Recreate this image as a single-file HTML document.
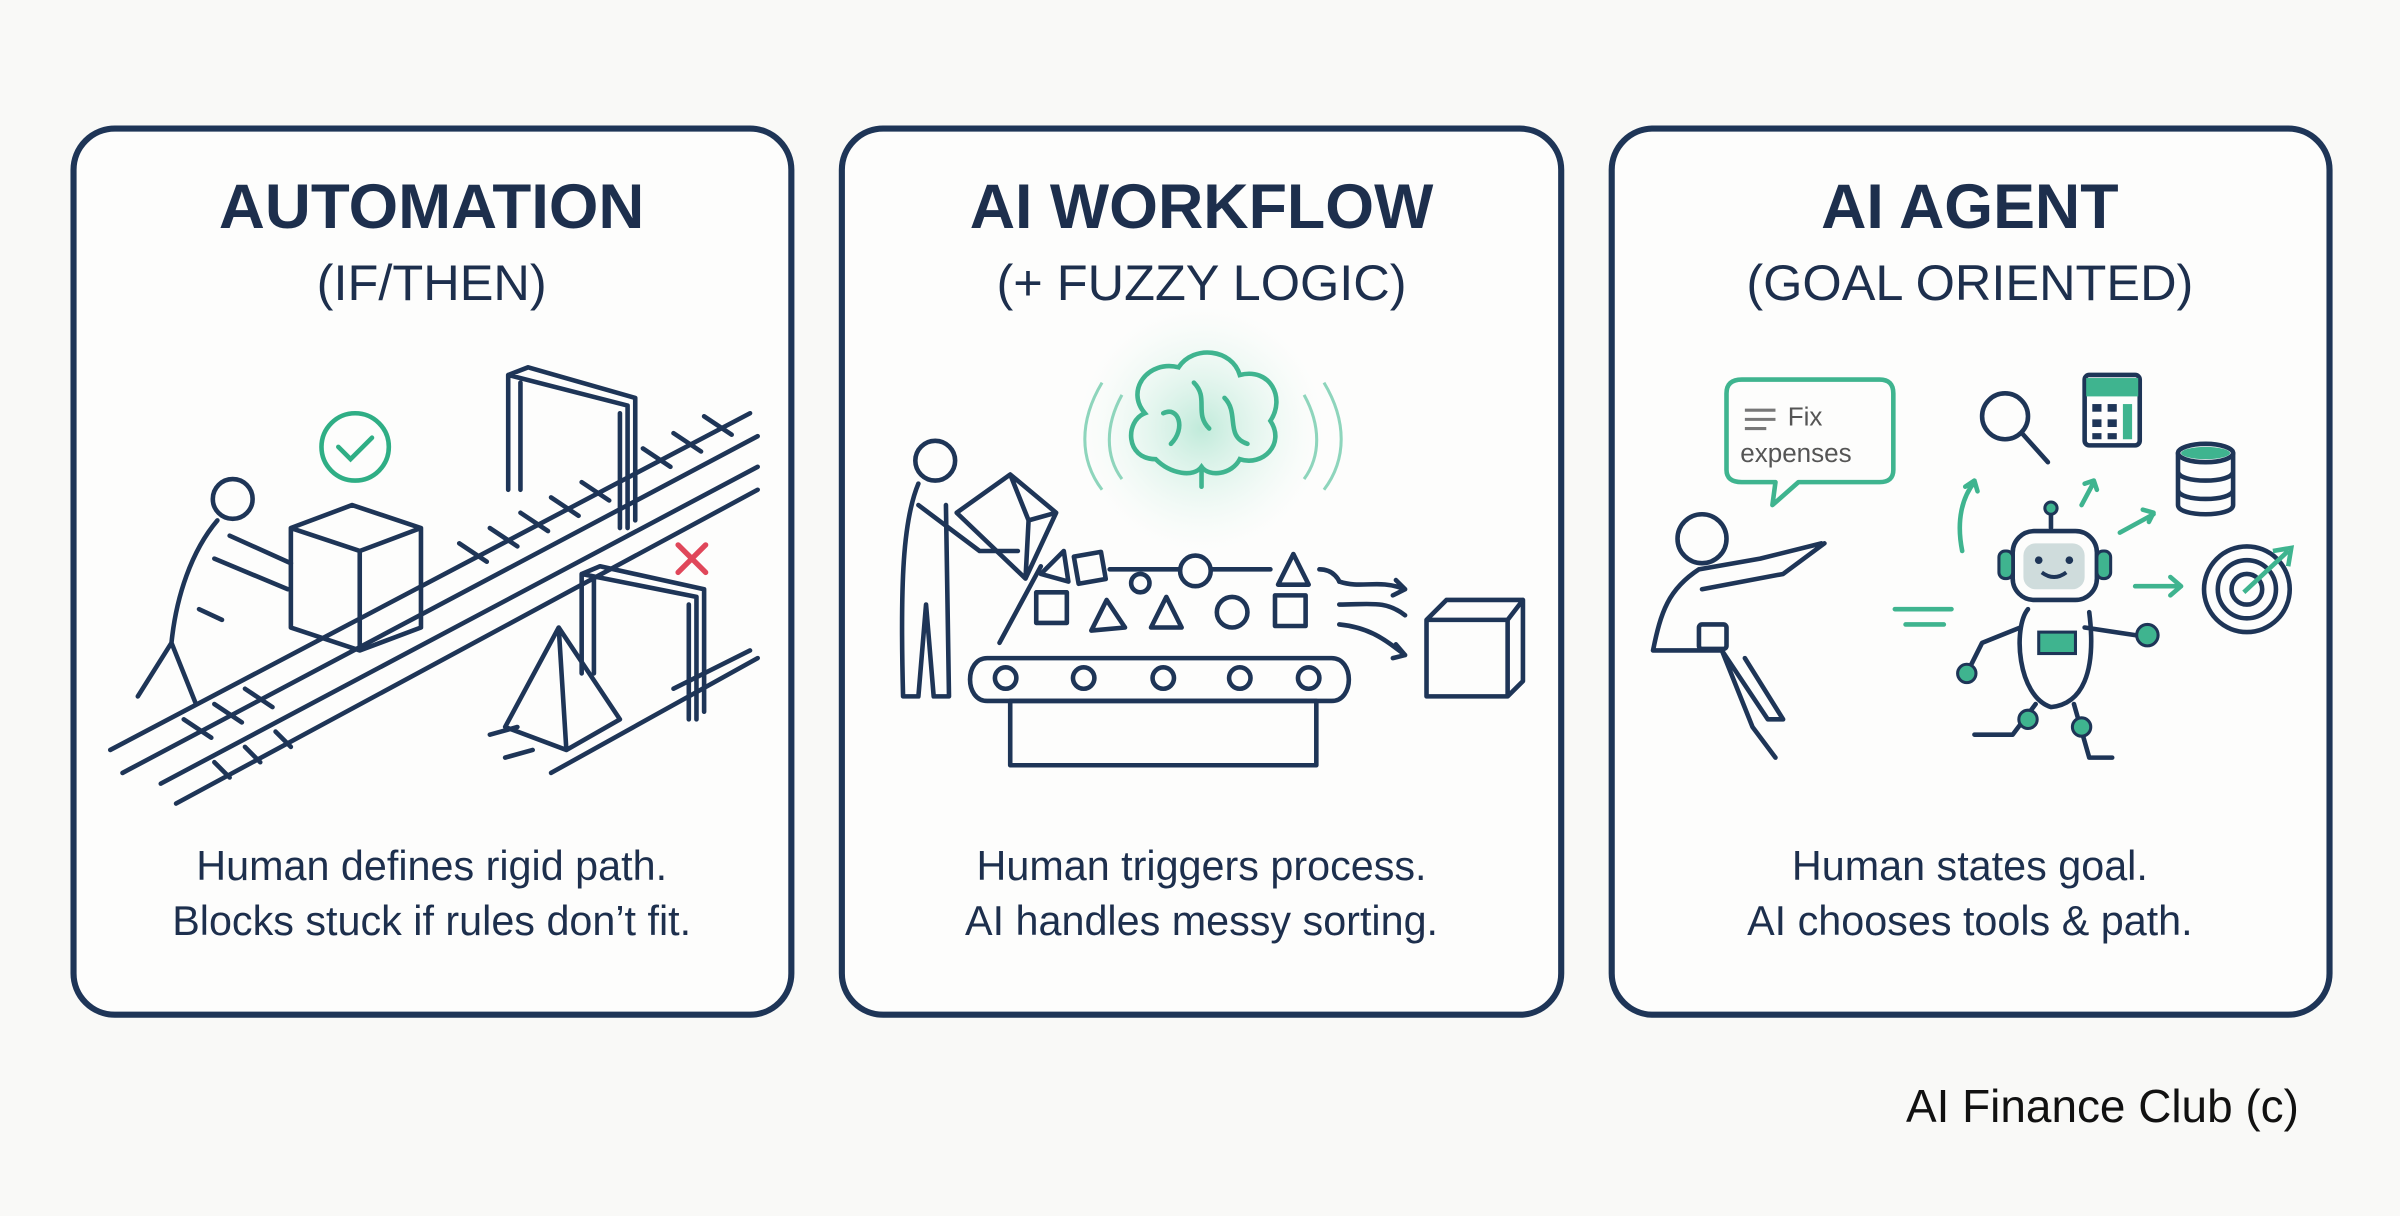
<!DOCTYPE html>
<html><head><meta charset="utf-8"><style>
html,body{margin:0;padding:0;background:#f9f9f7;}
svg{display:block}
text{font-family:"Liberation Sans",sans-serif;fill:#1d2f4d}
</style></head><body>
<svg width="2400" height="1216" viewBox="0 0 1568 794.5" xmlns="http://www.w3.org/2000/svg">
<defs>
<radialGradient id="glow"><stop offset="0" stop-color="#b9e8d6" stop-opacity=".9"/><stop offset="1" stop-color="#e8f7f1" stop-opacity="0"/></radialGradient>
</defs>
<rect width="1568" height="794.5" fill="#f9f9f7"/>
<g fill="#fdfdfc" stroke="#1e3557" stroke-width="4">
<rect x="48" y="84" width="469" height="579" rx="27"/>
<rect x="550" y="84" width="470" height="579" rx="27"/>
<rect x="1053" y="84" width="469" height="579" rx="27"/>
</g>
<g text-anchor="middle">
<text x="282" y="149" font-size="41" font-weight="bold" textLength="278" lengthAdjust="spacingAndGlyphs">AUTOMATION</text>
<text x="282" y="196" font-size="33">(IF/THEN)</text>
<text x="785" y="149" font-size="41" font-weight="bold">AI WORKFLOW</text>
<text x="785" y="196" font-size="33">(+ FUZZY LOGIC)</text>
<text x="1287" y="149" font-size="41" font-weight="bold">AI AGENT</text>
<text x="1287" y="196" font-size="33">(GOAL ORIENTED)</text>
<text x="282" y="575" font-size="27">Human defines rigid path.</text>
<text x="282" y="611" font-size="27">Blocks stuck if rules don’t fit.</text>
<text x="785" y="575" font-size="27">Human triggers process.</text>
<text x="785" y="611" font-size="27">AI handles messy sorting.</text>
<text x="1287" y="575" font-size="27">Human states goal.</text>
<text x="1287" y="611" font-size="27">AI chooses tools &amp; path.</text>
</g>
<text x="1502" y="733" font-size="30" text-anchor="end" style="fill:#111">AI Finance Club (c)</text>

<!-- Panel 1 -->
<g fill="none" stroke="#1e3557" stroke-width="3" stroke-linecap="round" stroke-linejoin="round">
<path d="M72 490 L490 270 M80 505 L495 285 M105 512 L495 305 M115 525 L495 320"/>
<path d="M120 470 l18 12 M140 460 l18 12 M160 450 l18 12 M300 355 l18 12 M320 345 l18 12 M340 335 l18 12 M360 325 l18 12 M380 315 l18 12 M420 293 l18 12 M440 283 l18 12 M460 272 l18 12"/>
<path d="M140 498 l10 10 M160 488 l10 10 M180 478 l10 10"/>
<path d="M190 345 L230 330 L275 345 L275 410 L235 425 L190 410 Z M190 345 L235 360 L275 345 M235 360 L235 425"/>
<circle cx="152" cy="326" r="13"/>
<path d="M142 340 C125 360 115 390 112 420 L90 455 M112 420 L128 460 M150 350 L190 368 M140 365 L188 385 M130 398 L145 405"/>
<path d="M332 245 L410 265 L410 345 M340 250 L340 320 M332 245 L332 320 M405 270 L405 345 M332 245 L345 240 L415 260 L415 340"/>
<path d="M380 375 L455 390 L455 470 M388 378 L388 440 M380 375 L380 440 M450 395 L450 470 M380 375 L392 370 L460 385 L460 465"/>
<path d="M365 410 L330 475 L370 490 L405 470 Z M365 410 L370 490"/>
<path d="M320 480 l18 -5 M330 495 l18 -5 M360 505 L495 430 M440 450 L490 425"/>
</g>
<circle cx="232" cy="292" r="22" fill="none" stroke="#2fae85" stroke-width="3"/>
<path d="M221 292 l8 8 l14 -14" fill="none" stroke="#2fae85" stroke-width="3" stroke-linecap="round"/>
<path d="M443 356 l18 18 M461 356 l-18 18" stroke="#e0475a" stroke-width="3.5" stroke-linecap="round"/>

<!-- Panel 2 -->
<circle cx="785" cy="280" r="80" fill="url(#glow)"/>
<g fill="none" stroke="#3fb48f" stroke-width="3" stroke-linecap="round">
<path d="M755 300 C735 300 735 275 748 270 C735 255 750 235 770 240 C780 225 805 228 810 245 C830 240 840 260 830 275 C840 290 825 305 810 300 C805 310 790 312 785 305 C780 312 765 310 755 300 Z"/>
<path d="M785 305 L785 318 M780 250 C790 260 780 270 790 280 M760 270 C770 265 775 280 765 290 M800 260 C810 270 800 285 815 290"/>
</g>
<g fill="none" stroke="#8ed5bc" stroke-width="2">
<path d="M720 250 C705 275 705 300 720 320 M733 258 C722 278 722 298 733 313 M865 250 C880 275 880 300 865 320 M852 258 C863 278 863 298 852 313"/>
</g>
<g fill="none" stroke="#1e3557" stroke-width="3" stroke-linecap="round" stroke-linejoin="round">
<circle cx="611" cy="301" r="13"/>
<path d="M600 316 C590 340 588 380 590 455 L600 455 L605 395 L610 455 L620 455 L618 330 M600 330 L640 360 L665 360"/>
<path d="M625 335 L660 310 L690 335 L670 378 Z M660 310 L672 340 L690 335 M672 340 L670 378"/>
<path d="M653 420 L680 370 M645 430 L870 430 M645 430 C630 430 630 458 645 458 L870 458 C885 458 885 430 870 430"/>
<circle cx="657" cy="443" r="7"/><circle cx="708" cy="443" r="7"/><circle cx="760" cy="443" r="7"/><circle cx="810" cy="443" r="7"/><circle cx="855" cy="443" r="7"/>
<rect x="660" y="458" width="200" height="42"/>
<rect x="677" y="387" width="20" height="20"/><path d="M713 412 L723 392 L735 410 Z M752 410 L762 390 L772 410 Z"/><circle cx="805" cy="400" r="10"/><rect x="833" y="389" width="20" height="20"/>
<rect x="703" y="362" width="18" height="18" transform="rotate(-10 712 371)"/><circle cx="745" cy="381" r="6"/><circle cx="781" cy="373" r="10"/><path d="M835 382 L845 362 L855 382 Z M680 375 L695 360 L698 380 Z"/>
<path d="M725 372 L770 372 M792 372 L830 372 M862 372 C872 372 875 380 875 380"/>
<path d="M875 380 C890 385 900 378 918 385 M912 379 l6 6 l-8 4 M875 395 C895 395 905 392 918 402 M875 408 C895 410 905 418 918 428 M912 421 l6 7 l-8 2"/>
<path d="M932 405 L985 405 L985 455 L932 455 Z M932 405 L945 392 L995 392 L995 445 L985 455 M985 405 L995 392"/>
</g>

<!-- Panel 3 -->
<g fill="none" stroke="#3fb48f" stroke-width="3" stroke-linecap="round" stroke-linejoin="round">
<path d="M1138 248 L1228 248 Q1237 248 1237 257 L1237 307 Q1237 315 1228 315 L1175 315 L1158 330 L1160 315 L1138 315 Q1128 315 1128 307 L1128 257 Q1128 248 1138 248 Z"/>
<path d="M1282 360 C1278 340 1282 325 1290 315 M1284 318 l6 -4 l2 7 M1360 330 l8 -15 M1362 316 l6 -2 l2 6 M1385 348 l22 -12 M1400 333 l7 2 l-3 6 M1395 383 L1425 383 M1418 377 l7 6 l-7 6 M1238 398 L1275 398 M1245 408 L1270 408"/>
</g>
<g font-size="17"><text x="1168" y="278" style="fill:#555">Fix</text><text x="1137" y="302" style="fill:#555">expenses</text></g>
<path d="M1140 268 h20 M1140 274 h20 M1140 280 h14" stroke="#777" stroke-width="2"/>
<g fill="none" stroke="#1e3557" stroke-width="3" stroke-linecap="round" stroke-linejoin="round">
<circle cx="1112" cy="352" r="16"/>
<path d="M1110 372 C1090 385 1085 400 1080 425 L1125 425 L1155 470 L1165 470 L1140 430 M1110 372 L1150 365 L1190 355 M1112 385 L1165 375 L1192 355 M1125 425 L1145 475 L1160 495"/>
<rect x="1110" y="408" width="18" height="16" rx="2"/>
<circle cx="1310" cy="272" r="15"/><path d="M1321 283 L1338 302"/>
<rect x="1362" y="245" width="36" height="46" rx="3"/>
<ellipse cx="1441" cy="296" rx="18" ry="6"/><path d="M1423 296 V330 C1423 338 1459 338 1459 330 V296 M1423 308 C1423 316 1459 316 1459 308 M1423 320 C1423 328 1459 328 1459 320"/>
<circle cx="1468" cy="385" r="28"/><circle cx="1468" cy="385" r="19"/><circle cx="1468" cy="385" r="10"/>
<path d="M1340 335 V345"/>
<rect x="1315" y="347" width="55" height="45" rx="14"/>
<path d="M1325 398 C1315 410 1318 455 1340 462 C1360 460 1370 440 1365 400 M1320 410 L1295 420 L1285 440 M1362 410 L1395 415 M1330 460 L1315 480 L1290 480 M1355 460 L1365 495 L1380 495"/>
</g>
<rect x="1363" y="247" width="34" height="12" fill="#3fb48f"/>
<g fill="#1e3557"><rect x="1367" y="264" width="6" height="5"/><rect x="1377" y="264" width="6" height="5"/><rect x="1367" y="274" width="6" height="5"/><rect x="1377" y="274" width="6" height="5"/><rect x="1367" y="283" width="6" height="4"/><rect x="1377" y="283" width="6" height="4"/></g>
<rect x="1387" y="264" width="6" height="23" fill="#3fb48f"/>
<ellipse cx="1441" cy="296" rx="16" ry="4" fill="#3fb48f"/>
<path d="M1466 387 L1495 360 M1485 360 l12 -2 l-2 12" stroke="#3fb48f" stroke-width="3" fill="none"/>
<rect x="1322" y="355" width="40" height="30" rx="8" fill="#cfdcdc"/>
<circle cx="1332" cy="366" r="2.5" fill="#1e3557"/><circle cx="1352" cy="366" r="2.5" fill="#1e3557"/>
<path d="M1334 374 Q1342 380 1350 374" stroke="#1e3557" stroke-width="2.5" fill="none"/>
<g fill="#3fb48f" stroke="#1e3557" stroke-width="2"><circle cx="1340" cy="332" r="4"/><rect x="1306" y="360" width="9" height="18" rx="4"/><rect x="1370" y="360" width="9" height="18" rx="4"/><rect x="1332" y="413" width="24" height="14"/><circle cx="1285" cy="440" r="6"/><circle cx="1403" cy="415" r="7"/><circle cx="1325" cy="470" r="6"/><circle cx="1360" cy="475" r="6"/></g>
</svg>
</body></html>
